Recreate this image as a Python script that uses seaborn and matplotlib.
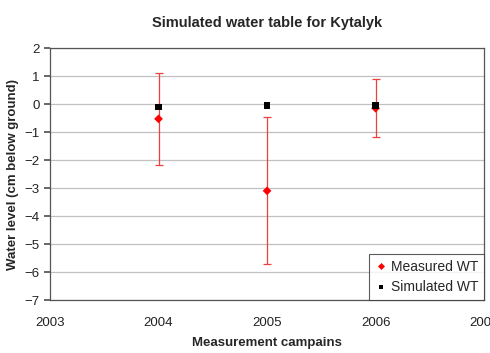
import matplotlib as mpl
import matplotlib.pyplot as plt
import numpy as np
import pandas as pd
import seaborn as sns

mpl.use('Agg')

# data
years = [2004, 2005, 2006]
measured_wt = [-0.53, -3.1, -0.15]
measured_err = [1.65, 2.62, 1.03]
simulated_wt = [-0.12, -0.05, -0.05]

sns.set_theme(style='white', rc={'axes.edgecolor': '#555555', 'axes.linewidth': 0.9})
plt.rcParams['font.family'] = ['Liberation Sans', 'DejaVu Sans']

df = pd.DataFrame({'year': years * 2,
                   'level': measured_wt + simulated_wt,
                   'series': ['Measured WT'] * 3 + ['Simulated WT'] * 3})

fig = plt.figure(figsize=(4.9, 3.53), dpi=100)
ax = fig.add_axes([0.102, 0.150, 0.886, 0.714])

# horizontal grid lines
ax.set_axisbelow(True)
ax.yaxis.grid(True, color='#c0c0c0', linewidth=0.9)

# error bars for measured values
ax.errorbar(years, measured_wt, yerr=measured_err, fmt='none', ecolor='#ea4040',
            elinewidth=0.9, capsize=3, capthick=0.9, zorder=2)

sns.scatterplot(data=df, x='year', y='level', hue='series', style='series',
                palette={'Measured WT': '#ff0000', 'Simulated WT': '#000000'},
                markers={'Measured WT': 'D', 'Simulated WT': 's'},
                s=20, linewidth=0, ax=ax, zorder=3)

ax.set_xlim(2003, 2007)
ax.set_ylim(-7, 2)
ax.set_xticks([2003, 2004, 2005, 2006, 2007])
ax.set_yticks(np.arange(-7, 3, 1))
ax.tick_params(axis='both', labelsize=9.5, colors='#222222')
ax.tick_params(axis='y', length=4, direction='out', left=True, color='#555555')
ax.tick_params(axis='x', length=0, pad=12)

ax.set_xlabel('Measurement campains', fontsize=9.5, fontweight='bold', labelpad=6)
ax.set_ylabel('Water level (cm below ground)', fontsize=9.5, fontweight='bold', labelpad=4)
ax.set_title('Simulated water table for Kytalyk', fontsize=10.5, fontweight='bold', pad=15)

leg = ax.legend(loc='lower right', fontsize=10, frameon=True, fancybox=False,
                edgecolor='#333333', borderaxespad=0, handletextpad=0.2,
                handlelength=1.0, markerscale=0.8, borderpad=0.4)
leg.get_frame().set_linewidth(0.8)

plt.savefig('out.png', dpi=100)
plt.close()
